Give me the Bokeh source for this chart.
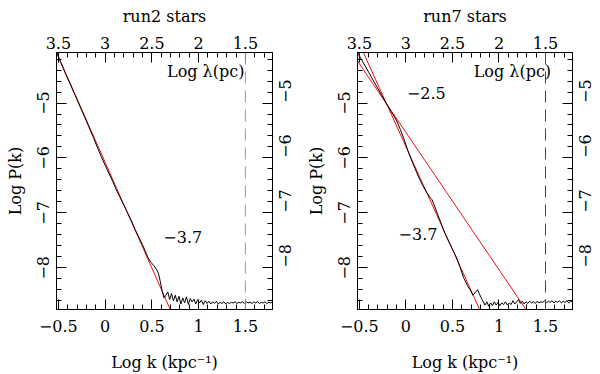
import math
from bokeh.plotting import figure
from bokeh.models import Range1d, LinearAxis, SingleIntervalTicker, CustomJSTickFormatter, Span, Label
from bokeh.layouts import row
from bokeh.embed import file_html
from bokeh.resources import INLINE

FONT = "DejaVu Serif"
FS = "16px"

# axis ranges (log k in kpc^-1, log P)
X_RANGE = (-0.52, 1.79)
Y_RANGE = (-8.76, -4.08)
TITLES = ["run2 stars", "run7 stars"]
DASH_LOGK = 1.5

# run2 power spectrum
left_logk = [-0.52, -0.47, -0.42, -0.37, -0.32, -0.27, -0.22, -0.17, -0.12, -0.08, -0.04, 0.00,
             0.04, 0.08, 0.12, 0.16, 0.20, 0.24, 0.28, 0.32, 0.36, 0.40, 0.43, 0.46, 0.49, 0.52,
             0.55, 0.57, 0.59, 0.61, 0.63,
             0.65, 0.67, 0.69, 0.71, 0.73, 0.75, 0.77, 0.79, 0.81, 0.83, 0.85, 0.87, 0.89, 0.91,
             0.93, 0.95, 0.97, 0.99, 1.01, 1.03, 1.05, 1.07, 1.09, 1.11, 1.13, 1.15, 1.17, 1.19,
             1.21, 1.23, 1.25, 1.27, 1.29, 1.31, 1.33, 1.35, 1.37, 1.39, 1.41, 1.43, 1.45, 1.47,
             1.49, 1.51, 1.53, 1.55, 1.57, 1.59, 1.61, 1.63, 1.65, 1.67, 1.69, 1.71, 1.73, 1.75,
             1.77, 1.79]
left_logp = [-4.08, -4.28, -4.48, -4.67, -4.86, -5.06, -5.25, -5.45, -5.65, -5.82, -5.98, -6.13,
             -6.28, -6.42, -6.58, -6.72, -6.86, -7.00, -7.14, -7.30, -7.44, -7.58, -7.70, -7.82, -7.90, -7.96,
             -8.03, -8.10, -8.25, -8.42, -8.55,
             -8.50, -8.44, -8.58, -8.47, -8.60, -8.50, -8.62, -8.52, -8.66, -8.55, -8.64, -8.53, -8.67, -8.56,
             -8.62, -8.57, -8.66, -8.58, -8.64, -8.59, -8.67, -8.60, -8.65, -8.61, -8.66, -8.62, -8.65, -8.61,
             -8.66, -8.63, -8.65, -8.62, -8.66, -8.63, -8.65, -8.63, -8.64, -8.62, -8.65, -8.63, -8.64, -8.62,
             -8.65, -8.62, -8.64, -8.63, -8.65, -8.62, -8.64, -8.62, -8.65, -8.63, -8.64, -8.62, -8.65, -8.63,
             -8.64, -8.62]

# run7 power spectrum
right_logk = [-0.52, -0.46, -0.40, -0.34, -0.28, -0.22, -0.16, -0.10, -0.06, -0.02, 0.02, 0.06,
              0.10, 0.14, 0.18, 0.22, 0.26, 0.28, 0.30, 0.34, 0.38, 0.42, 0.46, 0.50, 0.54, 0.58,
              0.62, 0.66, 0.69, 0.72, 0.75, 0.77, 0.79, 0.82, 0.85,
              0.87, 0.89, 0.91, 0.93, 0.95, 0.97, 0.99, 1.01, 1.03, 1.05, 1.07, 1.09, 1.11, 1.13,
              1.15, 1.17, 1.19, 1.21, 1.23, 1.25, 1.27, 1.29, 1.31, 1.33, 1.35, 1.37, 1.39, 1.41,
              1.43, 1.45, 1.47, 1.49, 1.51, 1.53, 1.55, 1.57, 1.59, 1.61, 1.63, 1.65, 1.67, 1.69,
              1.71, 1.73, 1.75, 1.77, 1.79]
right_logp = [-4.08, -4.26, -4.44, -4.62, -4.80, -4.98, -5.15, -5.32, -5.48, -5.66, -5.86, -6.04,
              -6.20, -6.36, -6.50, -6.62, -6.72, -6.76, -6.84, -7.02, -7.20, -7.38, -7.52, -7.66, -7.80, -7.98,
              -8.18, -8.32, -8.40, -8.50, -8.44, -8.40, -8.48, -8.58, -8.68,
              -8.62, -8.70, -8.64, -8.69, -8.62, -8.68, -8.63, -8.69, -8.64, -8.67, -8.62, -8.68, -8.64, -8.67,
              -8.60, -8.66, -8.62, -8.58, -8.65, -8.61, -8.66, -8.62, -8.65, -8.61, -8.64, -8.62, -8.65, -8.61,
              -8.64, -8.62, -8.63, -8.60, -8.64, -8.61, -8.63, -8.60, -8.64, -8.61, -8.63, -8.60, -8.64, -8.61,
              -8.63, -8.60, -8.64, -8.61, -8.63]

# power-law fits: (slope, intercept)
left_fits = [(-3.85, -6.08)]
right_fits = [(-3.747, -5.792), (-2.5, -5.535)]

# in-plot labels: (text, x, y, align)
left_labels = [("Log \u03bb(pc)", 1.49, -4.42, "right"), ("\u22123.7", 0.83, -7.435, "center")]
right_labels = [("Log \u03bb(pc)", 1.56, -4.42, "right"), ("\u22122.5", 0.22, -4.826, "center"),
                ("\u22123.7", 0.13, -7.386, "center")]

MINUS_JS = "return (tick < -1e-9 ? '\\u2212' : '') + Math.abs(tick).toString();"


def style_axis(ax, standoff):
    ax.axis_line_color = "black"
    ax.axis_line_width = 1
    ax.major_tick_in = 10
    ax.major_tick_out = 0
    ax.minor_tick_in = 5
    ax.minor_tick_out = 0
    ax.major_tick_line_color = "black"
    ax.minor_tick_line_color = "black"
    ax.major_label_text_font = FONT
    ax.major_label_text_font_size = FS
    ax.major_label_text_color = "black"
    ax.major_label_standoff = standoff
    ax.formatter = CustomJSTickFormatter(code=MINUS_JS)


def set_axis_label(ax, text, standoff):
    ax.axis_label = text
    ax.axis_label_text_font = FONT
    ax.axis_label_text_font_size = FS
    ax.axis_label_text_font_style = "normal"
    ax.axis_label_text_color = "black"
    ax.axis_label_standoff = standoff


def panel(title, kx, lp, fits, labels, dash_color, width, bl, br):
    p = figure(width=width, height=374, x_range=Range1d(*X_RANGE), y_range=Range1d(*Y_RANGE),
               output_backend="svg", toolbar_location=None, title=None,
               x_axis_location=None, y_axis_location=None,
               min_border_left=bl, min_border_right=br, min_border_top=52, min_border_bottom=64)
    p.extra_x_ranges = {"lam": Range1d(3 - X_RANGE[0], 3 - X_RANGE[1])}
    p.outline_line_color = "black"
    p.background_fill_color = "white"
    p.border_fill_color = "white"
    p.xgrid.visible = False
    p.ygrid.visible = False

    bottom = LinearAxis(ticker=SingleIntervalTicker(interval=0.5, num_minor_ticks=5))
    style_axis(bottom, 10)
    set_axis_label(bottom, "Log k (kpc\u207b\u00b9)", 18)
    p.add_layout(bottom, "below")

    top = LinearAxis(x_range_name="lam", ticker=SingleIntervalTicker(interval=0.5, num_minor_ticks=5))
    style_axis(top, 4)
    set_axis_label(top, title, 8)
    p.add_layout(top, "above")

    left = LinearAxis(ticker=SingleIntervalTicker(interval=1, num_minor_ticks=5))
    style_axis(left, 7)
    left.major_label_orientation = "vertical"
    set_axis_label(left, "Log P(k)", 10)
    p.add_layout(left, "left")

    right = LinearAxis(ticker=SingleIntervalTicker(interval=1, num_minor_ticks=5))
    style_axis(right, 13)
    right.major_label_orientation = math.pi / 2
    p.add_layout(right, "right")

    p.add_layout(Span(location=DASH_LOGK, dimension="height", line_color=dash_color,
                      line_width=1, line_dash="12 7"))

    for slope, icpt in fits:
        xs = list(X_RANGE)
        ys = [icpt + slope * x for x in xs]
        p.line(xs, ys, line_color="#f01018", line_width=1)

    p.line(kx, lp, line_color="black", line_width=1)

    for text, x, y, align in labels:
        p.add_layout(Label(x=x, y=y, text=text, text_font=FONT, text_font_size=FS,
                           text_align=align, text_baseline="middle", text_color="black"))
    return p


p1 = panel(TITLES[0], left_logk, left_logp, left_fits, left_labels, "#999999", 302, 56, 30)
p2 = panel(TITLES[1], right_logk, right_logp, right_fits, right_labels, "#444444", 298, 55, 27)

layout = row(p1, p2)
open("out.html", "w").write(file_html(layout, INLINE))
